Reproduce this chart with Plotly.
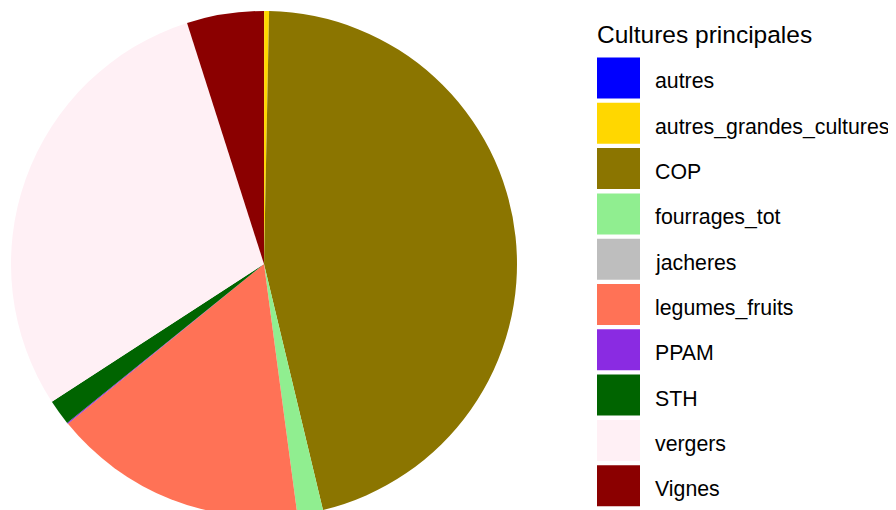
import plotly.graph_objects as go

# Data (share of surface, %)
categories = ["autres", "autres_grandes_cultures", "COP", "fourrages_tot", "jacheres",
              "legumes_fruits", "PPAM", "STH", "vergers", "Vignes"]
values = [0.01, 0.31, 45.94, 1.64, 0.0, 16.22, 0.08, 1.64, 29.25, 4.92]
colors = ["#0000FF", "#FFD700", "#8B7500", "#90EE90", "#BEBEBE",
          "#FF7256", "#8A2BE2", "#006400", "#FFF0F5", "#8B0000"]
legend_title = "Cultures principales"

W, H = 896, 510
OFF = 8  # page body margin offset
FONT = "Liberation Sans, Arial, sans-serif"

# pie geometry (screen pixels)
cx, cy, r = 264 - OFF, 264 - OFF, 253
dom_x = [(cx - r) / W, (cx + r) / W]
dom_y = [max(0, 1 - (cy + r) / H), min(1, 1 - (cy - r) / H)]


def px(x):
    return (x - OFF) / W


def py(y):
    return 1 - (y - OFF) / H


fig = go.Figure()
fig.add_trace(go.Pie(
    labels=categories, values=values,
    marker=dict(colors=colors, line=dict(width=0)),
    sort=False, direction="clockwise", rotation=0,
    textinfo="none", hoverinfo="label+value",
    showlegend=False, domain=dict(x=dom_x, y=dom_y),
))

# custom ggplot-like legend
shapes, annotations = [], []
annotations.append(dict(x=px(595), y=py(34), xref="paper", yref="paper",
                        text=legend_title, showarrow=False, xanchor="left", yanchor="middle",
                        font=dict(family=FONT, size=24.5, color="#000000")))
for i, (cat, col) in enumerate(zip(categories, colors)):
    yc = 78 + 45.3 * i
    shapes.append(dict(type="rect", xref="paper", yref="paper",
                       x0=px(597), x1=px(640), y0=py(yc - 20.5), y1=py(yc + 20.5),
                       fillcolor=col, line=dict(width=0)))
    annotations.append(dict(x=px(653), y=py(yc + 3.5), xref="paper", yref="paper",
                            text=cat, showarrow=False, xanchor="left", yanchor="middle",
                            font=dict(family=FONT, size=21.3, color="#000000")))

fig.update_layout(
    width=W, height=H,
    margin=dict(l=0, r=0, t=0, b=0),
    paper_bgcolor="white", plot_bgcolor="white",
    shapes=shapes, annotations=annotations,
)
fig.write_html("out.html")
